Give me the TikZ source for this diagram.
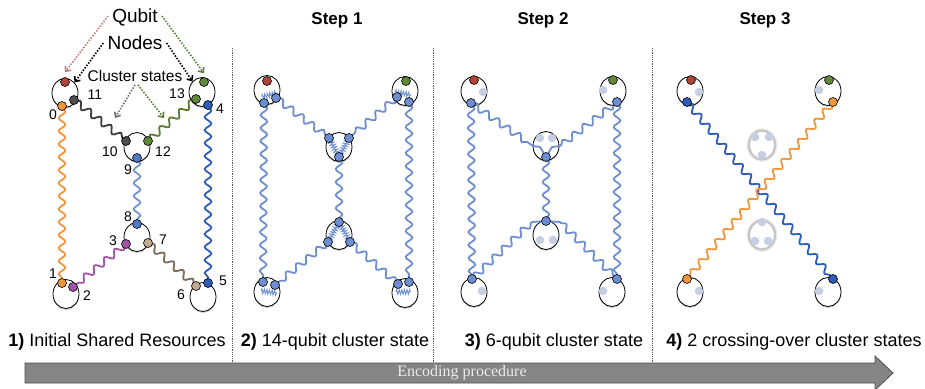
\documentclass[tikz,border=0pt]{standalone}
\usepackage{fontspec}
\setmainfont{Liberation Sans}
\newfontfamily\serifface{Liberation Serif}
\usetikzlibrary{decorations.pathmorphing, shapes.geometric, shadows, arrows.meta, calc}

\pgfdeclarelayer{paper}
\pgfdeclarelayer{ringlayer}
\pgfdeclarelayer{wavelayer}
\pgfsetlayers{paper,ringlayer,wavelayer,main}

\definecolor{cOrange}{HTML}{F0963C}
\definecolor{cRed}{HTML}{B0443C}
\definecolor{cDark}{HTML}{4D4D4D}
\definecolor{cDarkWave}{HTML}{3C3C3C}
\definecolor{cGreen}{HTML}{5F8838}
\definecolor{cOlive}{HTML}{5D7B34}
\definecolor{cBlue}{HTML}{2E5DB8}
\definecolor{cMid}{HTML}{5279C6}
\definecolor{cLight}{HTML}{7393D3}
\definecolor{cPurple}{HTML}{A453A8}
\definecolor{cTan}{HTML}{C4A892}
\definecolor{cBrown}{HTML}{7A6A56}
\definecolor{cStep}{HTML}{6E8ED2}
\definecolor{cGhost}{HTML}{C6CFE1}
\definecolor{cGhostRing}{HTML}{C6C6C6}
\definecolor{cGhostHalo}{HTML}{E8E8E8}
\definecolor{cPinkPtr}{HTML}{C07A78}
\definecolor{cGrayPtr}{HTML}{6E6E6E}
\definecolor{cArrowFill}{HTML}{858585}
\definecolor{cArrowLine}{HTML}{4F4F4F}

\tikzset{
  ring/.style={ellipse, draw=black, line width=0.8pt, fill=white,
    minimum width=26pt, minimum height=29pt, inner sep=0pt,
    drop shadow={shadow xshift=0pt, shadow yshift=-1.4pt, opacity=0.22, fill=black}},
  ghostring/.style={ellipse, draw=cGhostRing, line width=2.2pt, fill=white,
    minimum width=26pt, minimum height=29pt, inner sep=0pt,
    preaction={draw=cGhostHalo, line width=4.5pt}},
  qb/.style={circle, draw=black, line width=0.6pt, minimum size=9pt, inner sep=0pt, fill=#1},
  gq/.style={circle, fill=cGhost, minimum size=8.5pt, inner sep=0pt},
  wave/.style={draw=#1, line width=1.8pt, line cap=round, decorate,
    decoration={snake, segment length=13pt, amplitude=3.3pt, pre length=1.5pt, post length=1.5pt}},
  plainwave/.style={draw=#1, line width=1.8pt, line join=round},
  spring/.style={draw=cStep, line width=0.9pt, decorate,
    decoration={zigzag, segment length=2.6pt, amplitude=2.4pt}},
  pointer/.style={draw=#1, line width=1.6pt, dash pattern=on 1.5pt off 1.5pt,
    -{Straight Barb[length=4pt, width=7pt]}},
  num/.style={font=\fontsize{14}{16}\selectfont, inner sep=0pt},
  toplbl/.style={font=\fontsize{19}{22}\selectfont, inner sep=0pt},
  title/.style={font=\fontsize{17}{20}\selectfont\bfseries, inner sep=0pt},
  caption/.style={font=\fontsize{18}{21}\selectfont, inner sep=0pt},
  sep/.style={draw=black!65, line width=0.8pt, dash pattern=on 1.2pt off 1pt},
}

\begin{document}
\begin{tikzpicture}[x=1pt, y=-1pt]
\begin{pgfonlayer}{paper}
  \fill[white] (0,0) rectangle (925,388);
\end{pgfonlayer}
\useasboundingbox (0,0) rectangle (925,388);

% ---------- rings (node holders) ----------
\begin{pgfonlayer}{ringlayer}
  % panel 1
  \node[ring] (P1a) at (65,93) {};
  \node[ring] (P1b) at (202,92) {};
  \node[ring] (P1c) at (137,147) {};
  \node[ring] (P1d) at (137,237) {};
  \node[ring] (P1e) at (66,294) {};
  \node[ring] (P1f) at (203,297) {};
  % panel 2
  \node[ring] (P2a) at (267,90) {};
  \node[ring] (P2b) at (405,91) {};
  \node[ring] (P2c) at (339,147) {};
  \node[ring] (P2d) at (339,235) {};
  \node[ring] (P2e) at (267,292) {};
  \node[ring] (P2f) at (405,293) {};
  % panel 3
  \node[ring] (P3a) at (474,91) {};
  \node[ring] (P3b) at (613,91) {};
  \node[ring] (P3c) at (546,146) {};
  \node[ring] (P3d) at (546,235) {};
  \node[ring] (P3e) at (474,292) {};
  \node[ring] (P3f) at (612,292) {};
  % panel 4
  \node[ring] (P4a) at (690,91) {};
  \node[ring] (P4b) at (828,91) {};
  \node[ghostring] (P4c) at (762,145) {};
  \node[ghostring] (P4d) at (762,235) {};
  \node[ring] (P4e) at (690,292) {};
  \node[ring] (P4f) at (828,292) {};
\end{pgfonlayer}

% ---------- qubits, panel 1 ----------
\node[qb=cRed]    (qr)  at (65,82) {};
\node[qb=cOrange] (q0)  at (62,106) {};
\node[qb=cDark]   (q11) at (74,100) {};
\node[qb=cGreen]  (qg)  at (204,82) {};
\node[qb=cGreen]  (q13) at (196,99) {};
\node[qb=cBlue]   (q4)  at (208,105) {};
\node[qb=cDark]   (q10) at (126,141) {};
\node[qb=cGreen]  (q12) at (148,141) {};
\node[qb=cMid]    (q9)  at (137,158) {};
\node[qb=cMid]    (q8)  at (137,224) {};
\node[qb=cPurple] (q3)  at (126,244) {};
\node[qb=cTan]    (q7)  at (148,243) {};
\node[qb=cOrange] (q1)  at (62,283) {};
\node[qb=cPurple] (q2)  at (73,287) {};
\node[qb=cTan]    (q6)  at (196,286) {};
\node[qb=cBlue]   (q5)  at (208,283) {};

\node[num] (l11) at (95,95) {11};
\node[num] (l0)  at (53,115) {0};
\node[num] (l13) at (177,94) {13};
\node[num] (l4)  at (220,109) {4};
\node[num] (l10) at (110,152) {10};
\node[num] (l12) at (163,152) {12};
\node[num] (l9)  at (128,170) {9};
\node[num] (l8)  at (128,217) {8};
\node[num] (l3)  at (113,241) {3};
\node[num] (l7)  at (163,240) {7};
\node[num] (l1)  at (53,274) {1};
\node[num] (l2)  at (87,296) {2};
\node[num] (l5)  at (223,281) {5};
\node[num] (l6)  at (181,295) {6};

% legend words and their pointers
\node[toplbl] (qubitlbl) at (135,17) {Qubit};
\node[toplbl] (nodeslbl) at (135,43) {Nodes};
\node[font=\fontsize{15.5}{18}\selectfont, inner sep=0pt] (clusterlbl) at (135,76) {Cluster states};
\coordinate (w1) at (115,118);
\coordinate (w2) at (164,118);
\draw[pointer=cPinkPtr] ([xshift=-4pt,yshift=1pt]qubitlbl.west) -- ([yshift=5pt]qr.north);
\draw[pointer=cOlive] ([xshift=4pt,yshift=1pt]qubitlbl.east) -- ([yshift=4pt]qg.north);
\draw[pointer=black] ([xshift=-4pt]nodeslbl.west) -- (P1a.north east);
\draw[pointer=black] ([xshift=4pt]nodeslbl.east) -- (P1b.north west);
\draw[pointer=cGrayPtr] ([xshift=0pt,yshift=-3pt]clusterlbl.south) -- (w1);
\draw[pointer=cOlive] ([xshift=3pt,yshift=-3pt]clusterlbl.south) -- (w2);

% ---------- qubits, panel 2 ----------
\node[qb=cRed]   (ar) at (267,81) {};
\node[qb=cStep]  (a1) at (264,103) {};
\node[qb=cStep]  (a2) at (276,98) {};
\node[qb=cGreen] (bg) at (406,81) {};
\node[qb=cStep]  (b1) at (397,97) {};
\node[qb=cStep]  (b2) at (409,102) {};
\node[qb=cStep]  (c1) at (329,138) {};
\node[qb=cStep]  (c2) at (349,138) {};
\node[qb=cStep]  (c3) at (339,157) {};
\node[qb=cStep]  (d1) at (339,222) {};
\node[qb=cStep]  (d2) at (328,242) {};
\node[qb=cStep]  (d3) at (350,242) {};
\node[qb=cStep]  (e1) at (263,282) {};
\node[qb=cStep]  (e2) at (275,285) {};
\node[qb=cStep]  (f1) at (398,284) {};
\node[qb=cStep]  (f2) at (409,282) {};

% ---------- qubits, panel 3 ----------
\node[qb=cRed]   (tr) at (474,80) {};
\node[gq]        (tg1) at (483,92) {};
\node[qb=cStep]  (t1) at (471,103) {};
\node[qb=cGreen] (tgr) at (613,80) {};
\node[gq]        (tg2) at (603,90) {};
\node[qb=cStep]  (t2) at (617,102) {};
\node[gq]        (tg3) at (540,138) {};
\node[gq]        (tg4) at (552,138) {};
\node[qb=cStep]  (t3) at (546,157) {};
\node[qb=cStep]  (t4) at (546,221) {};
\node[gq]        (tg5) at (540,240) {};
\node[gq]        (tg6) at (553,240) {};
\node[qb=cStep]  (t5) at (472,279) {};
\node[gq]        (tg7) at (482,291) {};
\node[qb=cStep]  (t6) at (617,279) {};
\node[gq]        (tg8) at (603,291) {};

% ---------- qubits, panel 4 ----------
\node[qb=cRed]    (ur)  at (691,80) {};
\node[gq]         (ug1) at (699,92) {};
\node[qb=cBlue]   (u1)  at (687,102) {};
\node[qb=cGreen]  (ugr) at (829,80) {};
\node[gq]         (ug2) at (819,90) {};
\node[qb=cOrange] (u2)  at (833,102) {};
\node[gq]         (ug3) at (755,137) {};
\node[gq]         (ug4) at (769,137) {};
\node[gq]         (ug5) at (762,155) {};
\node[gq]         (ug6) at (762,222) {};
\node[gq]         (ug7) at (755,241) {};
\node[gq]         (ug8) at (768,241) {};
\node[qb=cOrange] (u3)  at (687,279) {};
\node[gq]         (ug9) at (699,291) {};
\node[qb=cBlue]   (u4)  at (833,279) {};
\node[gq]         (ug10) at (819,291) {};

% ---------- entangling links ----------
\begin{pgfonlayer}{wavelayer}
  % panel 1
  \draw[wave=cOrange]   (q0.center)  -- (q1.center);
  \draw[wave=cDarkWave] (q11.center) -- (q10.center);
  \draw[wave=cOlive]    (q12.center) -- (q13.center);
  \draw[wave=cBlue]     (q4.center)  -- (q5.center);
  \draw[wave=cLight]    (q9.center)  -- (q8.center);
  \draw[wave=cPurple]   (q3.center)  -- (q2.center);
  \draw[wave=cBrown]    (q7.center)  -- (q6.center);
  % panel 2
  \draw[wave=cStep] (a1.center) -- (e1.center);
  \draw[wave=cStep] (a2.center) -- (c1.center);
  \draw[wave=cStep] (b1.center) -- (c2.center);
  \draw[wave=cStep] (b2.center) -- (f2.center);
  \draw[wave=cStep] (c3.center) -- (d1.center);
  \draw[wave=cStep] (d2.center) -- (e2.center);
  \draw[wave=cStep] (d3.center) -- (f1.center);
  \draw[spring] ([xshift=-2pt,yshift=6pt]a1.center) -- ([xshift=2pt,yshift=5pt]a2.center);
  \draw[spring] ([xshift=-2pt,yshift=5pt]b1.center) -- ([xshift=2pt,yshift=7pt]b2.center);
  \draw[spring] (c1.center) -- (c3.center);
  \draw[spring] (c2.center) -- (c3.center);
  \draw[spring] (d1.center) -- (d2.center);
  \draw[spring] (d1.center) -- (d3.center);
  \draw[spring] ([xshift=-2pt,yshift=-9pt]e1.center) -- ([xshift=2pt,yshift=-8pt]e2.center);
  \draw[spring] ([xshift=-2pt,yshift=-8pt]f1.center) -- ([xshift=2pt,yshift=-10pt]f2.center);
  % panel 3
  \coordinate (m1) at (533,146);
  \coordinate (m2) at (560,146);
  \coordinate (m3) at (532,222);
  \coordinate (m4) at (560,222);
  \draw[wave=cStep] (t1.center) -- (t5.center);
  \draw[wave=cStep] (t2.center) -- (t6.center);
  \draw[wave=cStep] (t3.center) -- (t4.center);
  \draw[wave=cStep] (t1.center) -- (m1);
  \draw[plainwave=cStep] (m1) -- (540,147) -- (t3.center) -- (552,147) -- (m2);
  \draw[wave=cStep] (m2) -- (t2.center);
  \draw[wave=cStep] (t5.center) -- (m3);
  \draw[plainwave=cStep] (m3) -- (t4.center) -- (m4);
  \draw[wave=cStep] (m4) -- (t6.center);
  % panel 4
  \draw[wave=cBlue]   (u1.center) -- (u4.center);
  \draw[wave=cOrange] (u2.center) -- (u3.center);
\end{pgfonlayer}

% ---------- titles and separators ----------
\node[title] (s1) at (337,20) {Step 1};
\node[title] (s2) at (543,20) {Step 2};
\node[title] (s3) at (765,20) {Step 3};
\draw[sep] (232,48) -- (232,363);
\draw[sep] (433,48) -- (433,363);
\draw[sep] (652,48) -- (652,363);

% ---------- captions ----------
\node[caption] (c1lbl) at (117,342) {\textbf{1)} Initial Shared Resources};
\node[caption] (c2lbl) at (335,342) {\textbf{2)} 14-qubit cluster state};
\node[caption] (c3lbl) at (554,342) {\textbf{3)} 6-qubit cluster state};
\node[caption] (c4lbl) at (794,342) {\textbf{4)} 2 crossing-over cluster states};

% ---------- procedure arrow ----------
\draw[fill=cArrowFill, draw=cArrowLine, line width=0.8pt, line join=miter]
  (25,363) -- (875,363) -- (875,356) -- (893,373) -- (875,390) -- (875,383) -- (25,383) -- cycle;
\node[font=\serifface\fontsize{16}{18}\selectfont, text=white!92!black, inner sep=0pt] (enc) at (462,373) {Encoding procedure};
\end{tikzpicture}
\end{document}
